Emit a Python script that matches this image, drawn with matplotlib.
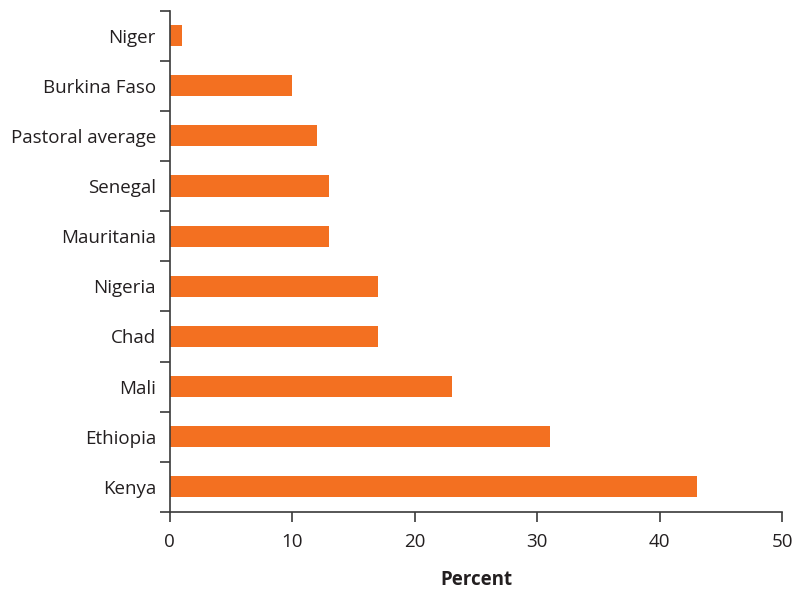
import matplotlib
matplotlib.use('Agg')
from matplotlib import pyplot as plt
import numpy as np

countries = ['Kenya', 'Ethiopia', 'Mali', 'Chad', 'Nigeria', 'Mauritania',
             'Senegal', 'Pastoral average', 'Burkina Faso', 'Niger']
percent = [43, 31, 23, 17, 17, 13, 13, 12, 10, 1]
xticks = [0, 10, 20, 30, 40, 50]

plt.rcParams['font.family'] = ['Open Sans', 'DejaVu Sans']
txt = '#231f20'

fig = plt.figure(figsize=(7.93, 5.90), dpi=100)
ax = fig.add_axes([0.2141, 0.1322, 0.7724, 0.85])

pos = np.arange(len(countries))
ax.barh(pos, percent, height=0.42, color='#f37021')

ax.set_xlim(0, 50)
ax.set_ylim(-0.5, len(countries) - 0.5)
ax.set_xticks(xticks)
ax.set_xticklabels([str(v) for v in xticks], fontsize=13.5, color=txt)
ax.set_yticks(pos)
ax.set_yticklabels(countries, fontsize=13.5, color=txt)
ax.set_yticks(np.arange(-0.5, len(countries), 1), minor=True)
ax.tick_params(axis='y', which='major', length=0, pad=10)
ax.tick_params(axis='y', which='minor', length=7, width=1.2, color='#3a3a3a')
ax.tick_params(axis='x', length=7, width=1.2, color='#3a3a3a', pad=8)

for s in ['top', 'right']:
    ax.spines[s].set_visible(False)
for s in ['left', 'bottom']:
    ax.spines[s].set_linewidth(1.2)
    ax.spines[s].set_color('#3a3a3a')

ax.set_xlabel('Percent', fontsize=13.5, fontweight='bold', color=txt, labelpad=14)

fig.savefig('out.png', dpi=100)
